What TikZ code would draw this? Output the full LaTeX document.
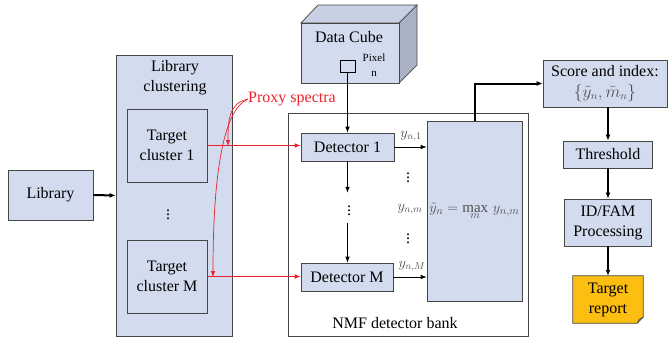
\documentclass[tikz,border=0pt]{standalone}
\usepackage{fontspec}
\setmainfont{Liberation Serif}
\usetikzlibrary{arrows.meta,backgrounds}
\definecolor{boxfill}{RGB}{211,220,238}
\definecolor{boxline}{RGB}{70,70,70}
\definecolor{proxyred}{RGB}{236,32,42}
\definecolor{reportfill}{RGB}{252,190,16}
\definecolor{sidefill}{RGB}{170,178,198}
\definecolor{topfill}{RGB}{200,208,228}
\definecolor{mathgray}{RGB}{80,80,80}
\tikzset{
  blk/.style={draw=boxline, fill=boxfill, line width=0.7pt, align=center, inner sep=0pt,
    font=\fontsize{16}{20}\selectfont},
  plainbox/.style={draw=boxline, line width=0.7pt, inner sep=0pt},
  lbl/.style={inner sep=0pt, font=\fontsize{16}{20}\selectfont, align=center},
  mlbl/.style={inner sep=0pt, text=mathgray, font=\fontsize{14}{16}\selectfont},
  thin arrow/.style={draw=black, line width=0.7pt, -{Latex[length=6pt,width=4.5pt]}},
  thick arrow/.style={draw=black, line width=2pt, -{Latex[length=6pt,width=5pt]}},
  red arrow/.style={draw=proxyred, line width=0.7pt, -{Latex[length=6pt,width=4.5pt]}},
}
\begin{document}
\begin{tikzpicture}[x=1pt,y=-1pt]
\useasboundingbox (0,0) rectangle (670,341);

% input library
\node[blk, minimum width=85pt, minimum height=50pt] (lib) at (50.5,195) {Library};

% library clustering block with its target clusters
\node[blk, minimum width=116pt, minimum height=281pt] (clust) at (174,195.5) {};
\node[lbl] (clusttitle) at (175,78) {Library\\clustering};
\node[blk, minimum width=80pt, minimum height=73pt] (c1) at (167,145.5) {Target\\cluster 1};
\node[lbl] (cdots) at (168,212) {$\vdots$};
\node[blk, minimum width=80pt, minimum height=73pt] (cM) at (167,276.5) {Target\\cluster M};

% NMF detector bank
\node[plainbox, minimum width=240pt, minimum height=223pt] (bank) at (408,224.5) {};
\node[lbl] (banktitle) at (395,323) {NMF detector bank};
\node[blk, minimum width=93pt, minimum height=28pt] (det1) at (347.5,147) {Detector 1};
\node[lbl, minimum height=30pt] (vd) at (349,208) {$\vdots$};
\node[blk, minimum width=92pt, minimum height=28pt] (detM) at (347,277) {Detector M};
\node[blk, minimum width=95pt, minimum height=180pt] (mx) at (474.5,211) {};
\node[inner sep=0pt, text=mathgray, font=\fontsize{15}{18}\selectfont] (maxeq) at (474.5,211)
  {$\tilde{y}_n = \max\limits_{m}\, y_{n,m}$};
\node[mlbl] (y1) at (411,136) {$y_{n,1}$};
\node[lbl] (hd1) at (408,175) {$\vdots$};
\node[mlbl] (ym) at (410,209) {$y_{n,m}$};
\node[lbl] (hd2) at (408,236) {$\vdots$};
\node[mlbl] (yM) at (412,266) {$y_{n,M}$};

% data cube
\fill[topfill, draw=boxline, line width=0.7pt] (301,23) -- (318,5) -- (417,5) -- (399,23) -- cycle;
\fill[sidefill, draw=boxline, line width=0.7pt] (399,23) -- (417,5) -- (417,65) -- (399,83) -- cycle;
\node[blk, minimum width=98pt, minimum height=60pt] (cube) at (350,53) {};
\node[lbl] (cubetitle) at (349,37) {Data Cube};
\node[draw=black, line width=0.7pt, minimum width=15pt, minimum height=12pt, inner sep=0pt] (pix) at (347.5,66) {};
\node[inner sep=0pt, align=center, font=\fontsize{11}{15}\selectfont] (pixlbl) at (374,65.5) {Pixel\\n};

% output chain
\node[blk, minimum width=124pt, minimum height=47pt] (score) at (605,83.5)
  {Score and index:\\[1pt]{\color{mathgray}$\{\tilde{y}_n,\tilde{m}_n\}$}};
\node[blk, minimum width=89pt, minimum height=27pt] (thr) at (608,154.5) {Threshold};
\node[blk, minimum width=87pt, minimum height=47pt] (idfam) at (608,222.5) {ID/FAM\\Processing};
\node[lbl, minimum width=70pt, minimum height=47pt] (rep) at (608,299.5) {Target\\report};
\begin{scope}[on background layer]
  \draw[boxline, fill=reportfill, line width=0.7pt]
    (rep.north west) -- (rep.north east) -- ([yshift=6pt]rep.south east)
    -- ([xshift=-6pt]rep.south east) -- (rep.south west) -- cycle;
  \draw[boxline, line width=0.7pt] ([yshift=6pt]rep.south east) -- ([xshift=-4pt,yshift=4pt]rep.south east)
    -- ([xshift=-6pt]rep.south east);
\end{scope}

% connectors
\draw[thick arrow] (lib.east) -- (clust.west);
\draw[red arrow] (c1.east) -- (c1.east -| det1.west);
\draw[red arrow] (cM.east) -- (cM.east -| detM.west);
\node[inner sep=0pt, text=proxyred, font=\fontsize{16}{20}\selectfont, anchor=west] (proxy) at (248,99) {Proxy spectra};
\coordinate (ptip1) at (228,146);
\coordinate (ptipM) at (213,277);
\draw[red arrow] (proxy.west) .. controls (229,103) and (228,120) .. (ptip1);
\draw[red arrow] (proxy.west) .. controls (222,110) and (213,180) .. (ptipM);

\draw[thin arrow] (pix.south) -- (det1.north);
\draw[thin arrow] (det1.south) -- (det1.south |- vd.north);
\draw[thin arrow] (det1.south |- vd.south) -- (det1.south |- detM.north);
\draw[thin arrow] (det1.east) -- (det1.east -| mx.west);
\draw[thin arrow] (detM.east) -- (detM.east -| mx.west);

\draw[thick arrow] (mx.north) |- (score.west);
\draw[thick arrow] (thr.north |- score.south) -- (thr.north);
\draw[thick arrow] (thr.south) -- (idfam.north);
\draw[thick arrow] (idfam.south) -- (rep.north);
\end{tikzpicture}
\end{document}
